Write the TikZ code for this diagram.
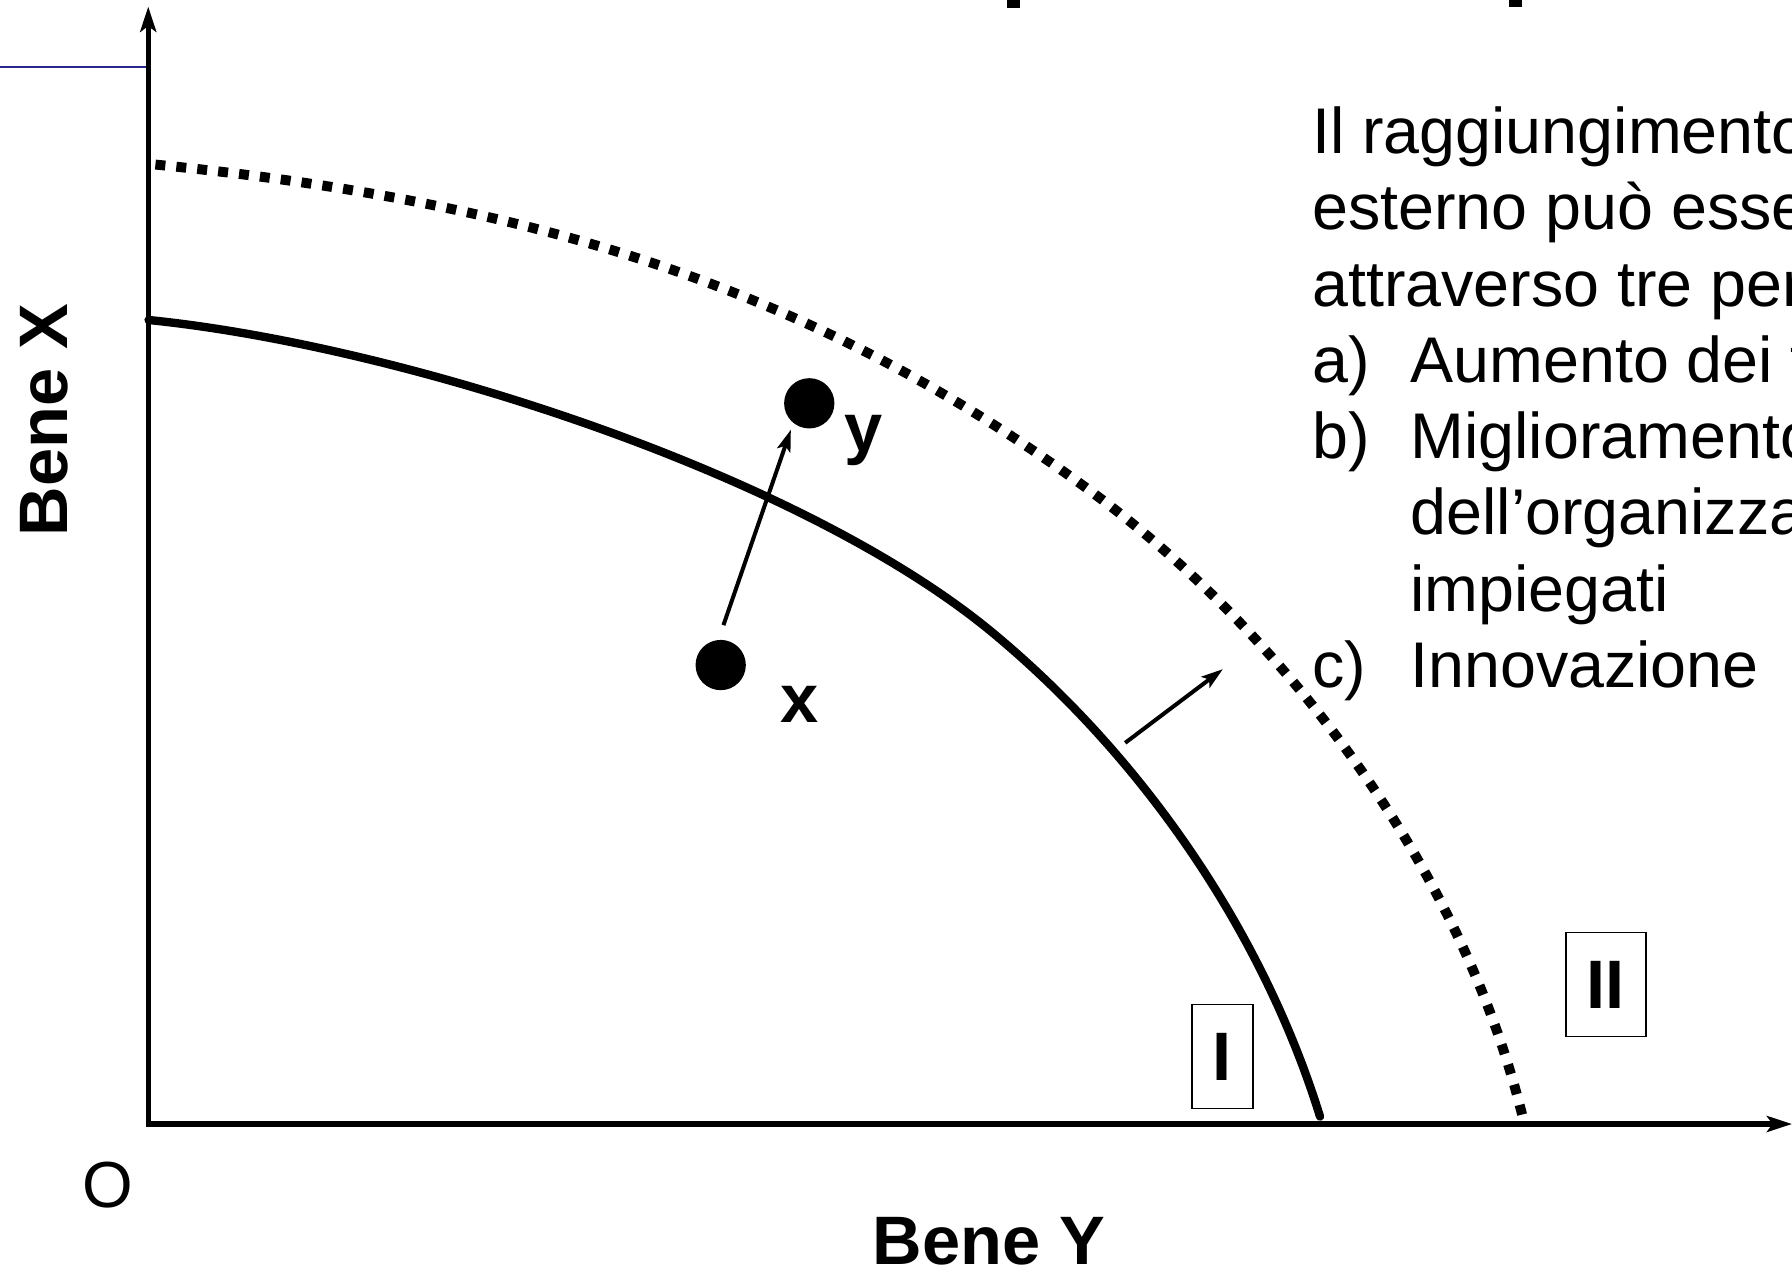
\documentclass[tikz,border=0pt]{standalone}
\usepackage{fontspec}
\setmainfont{Liberation Sans}
\usetikzlibrary{arrows.meta}
\definecolor{navyline}{RGB}{40,40,140}
\begin{document}
\begin{tikzpicture}[x=1pt,y=-1pt,
  axis/.style={line width=4.4pt, line cap=rect, -{Stealth[length=22pt,width=14pt,inset=5pt]}},
  frontier/.style={line width=7.3pt, line cap=round},
  shifted/.style={line width=8.7pt, dash pattern=on 8.7pt off 9.7pt},
  dotpt/.style={circle, fill=black, minimum size=44pt, inner sep=0pt},
  lbl/.style={font=\fontsize{60}{72}\selectfont\bfseries, inner sep=0pt},
  body/.style={font=\fontsize{56.5}{66.7}\selectfont, inner sep=0pt, anchor=base west},
  regbox/.style={draw, line width=1.5pt, inner sep=0pt, font=\fontsize{60}{72}\selectfont\bfseries, minimum height=91pt},
  move/.style={line width=3.5pt, -{Stealth[length=19pt,width=12pt,inset=4pt]}}
]
\useasboundingbox (0,0) rectangle (1568,1110);
% title fragments
\fill (881,0) rectangle (892.5,6.7);
\fill (1320,0) rectangle (1332,6.2);
% axes
\coordinate (O) at (129.7,983.5);
\coordinate (ytip) at (129.7,5.8);
\coordinate (xtip) at (1568,983.5);
\coordinate (bl) at (0,58.6);
\draw[navyline, line width=2.2pt] (bl) -- (O |- bl);
\draw[axis] (O) -- (ytip);
\draw[axis] (O) -- (xtip);
% frontiers
\draw[frontier] (130,280) .. controls (349,302) and (699.7,413.5) .. (869,554)
  .. controls (999.7,662.6) and (1104.7,814.6) .. (1155,977);
\draw[shifted] (136,144) .. controls (447.4,175.1) and (704.3,244.8) .. (956,431)
  .. controls (1131.3,560.7) and (1279.7,764.5) .. (1332,976);
% points
\node[dotpt] (px) at (630.6,581.9) {};
\node[dotpt] (py) at (708.1,352.9) {};
\node[lbl, anchor=base] (lx) at (699.3,632.4) {x};
\node[lbl, anchor=base] (ly) at (756,395) {y};
\coordinate (a1) at (633,547);
\coordinate (a2) at (692,376);
\draw[move] (a1) -- (a2);
\coordinate (s1) at (984.5,650);
\coordinate (s2) at (1070,585.5);
\draw[move] (s1) -- (s2);
% region boxes
\node[regbox, minimum width=53.7pt] (b1) at (1069.6,924.5) {I};
\node[regbox, minimum width=70.5pt] (b2) at (1405.2,861.5) {II};
% axis labels
\node[lbl, rotate=90] (bx) at (39.1,367.5) {Bene X};
\node[lbl] (by) at (865.5,1085.8) {Bene Y};
\node[font=\fontsize{57}{68}\selectfont, inner sep=0pt] (o) at (94.5,1037) {O};
% text
\node[body] (t1) at (1148,134.5) {Il raggiungimento};
\node[body] (t2) at (1148,201.2) {esterno può esse};
\node[body] (t3) at (1148,267.9) {attraverso tre per};
\node[body] (t4a) at (1148,334.6) {a)};
\node[body] (t4) at (1234,334.6) {Aumento dei f};
\node[body] (t5a) at (1148,401.3) {b)};
\node[body] (t5) at (1234,401.3) {Miglioramento};
\node[body] (t6) at (1234,468) {dell’organizza};
\node[body] (t7) at (1234,534.7) {impiegati};
\node[body] (t8a) at (1148,601.4) {c)};
\node[body] (t8) at (1234,601.4) {Innovazione};
\end{tikzpicture}
\end{document}
